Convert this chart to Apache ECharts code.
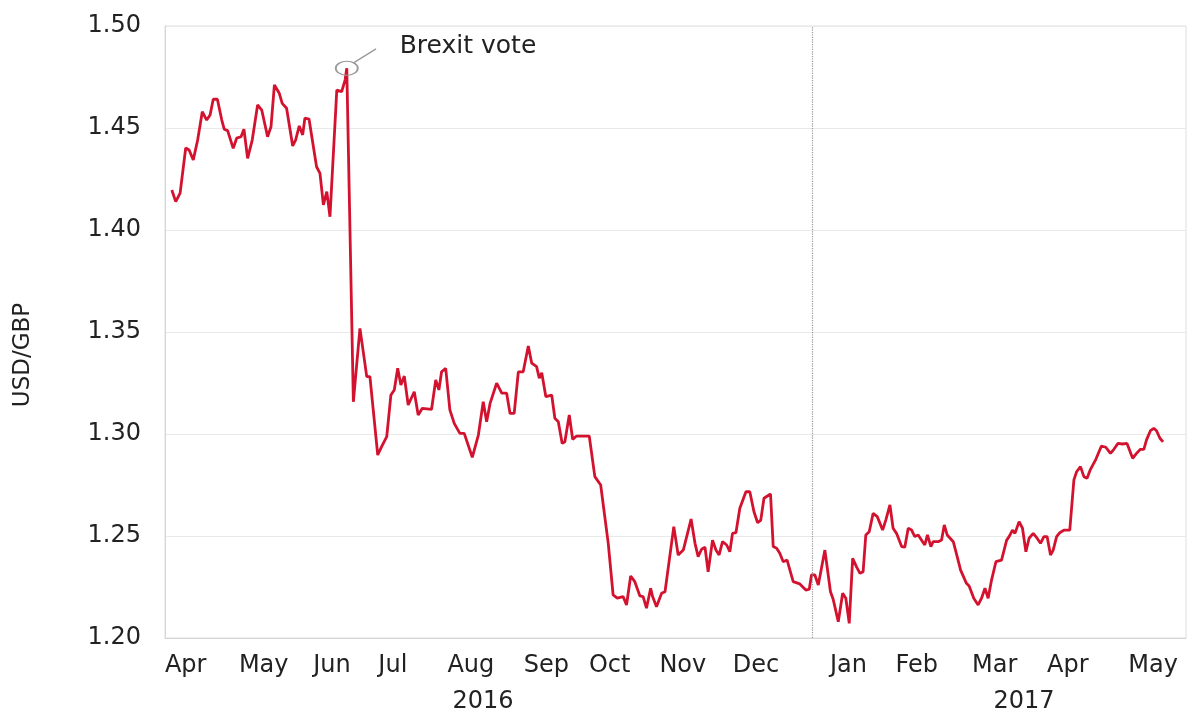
<!DOCTYPE html>
<html>
<head>
<meta charset="utf-8">
<script src="https://cdn.jsdelivr.net/npm/echarts@6/dist/echarts.min.js"></script>
<style>
  html, body { margin: 0; padding: 0; background: #fff; }
  #chart { width: 1195px; height: 715px; }
</style>
</head>
<body>
<div id="chart"></div>
<script>
// x = day counted from 1 Jan 2016 (1 Jan 2017 = 366)
const days = [
  102.3, 103.9, 105.7, 108.0, 109.4, 111.1, 112.9, 114.8, 116.6, 118.0,
  119.3, 121.0, 122.8, 123.8, 125.2, 127.5, 128.9, 130.7, 131.9, 133.4,
  135.3, 137.5, 139.2, 141.6, 143.0, 144.4, 146.4, 147.6, 149.4, 151.9,
  153.1, 154.6, 156.0, 156.9, 158.6, 161.7, 163.1, 164.5, 165.9, 167.2,
  170.0, 172.0, 173.4, 174.1, 176.8, 179.5, 182.3, 183.6, 186.8, 188.4,
  190.5, 192.2, 193.6, 195.0, 196.3, 197.7, 199.3, 201.8, 203.4, 205.1,
  208.9, 210.6, 211.9, 213.0, 214.7, 216.4, 218.2, 220.5, 222.3, 225.6,
  228.1, 230.1, 231.5, 232.9, 235.6, 237.7, 239.7, 241.1, 242.8, 244.5,
  246.5, 248.6, 250.0, 252.0, 253.1, 254.1, 255.8, 258.2, 259.5, 260.9,
  262.5, 263.6, 265.4, 266.8, 268.4, 273.6, 275.9, 278.3, 281.4, 283.4,
  285.1, 287.5, 288.9, 290.6, 292.3, 294.4, 295.7, 297.1, 298.8, 299.6,
  301.2, 303.3, 304.7, 308.3, 310.1, 312.2, 315.4, 317.0, 318.3, 319.7,
  321.1, 322.4, 324.2, 325.6, 326.9, 328.3, 330.0, 331.3, 332.4, 333.8,
  335.4, 337.9, 339.5, 341.2, 342.7, 344.0, 345.3, 348.0, 349.1, 350.5,
  351.8, 353.2, 354.8, 357.3, 360.0, 362.5, 363.9, 364.8, 366.2, 367.6,
  370.3, 372.6, 373.7, 374.5, 375.8, 377.6, 378.9, 380.3, 381.7, 383.3,
  384.7, 386.0, 387.1, 388.5, 390.1, 391.8, 394.0, 395.3, 397.0, 398.3,
  399.7, 401.8, 403.1, 404.5, 405.9, 407.2, 408.6, 410.4, 411.3, 412.4,
  413.8, 414.7, 416.8, 418.2, 419.3, 420.5, 423.0, 424.6, 426.0, 428.4,
  429.5, 431.4, 433.2, 434.6, 436.0, 437.3, 438.7, 440.5, 442.8, 444.9,
  445.9, 447.3, 448.3, 450.0, 451.4, 452.8, 454.1, 455.8, 457.4, 458.8,
  460.2, 461.5, 462.9, 464.0, 465.4, 466.7, 468.4, 470.8, 472.5, 473.6,
  475.2, 476.6, 477.9, 479.3, 481.5, 483.8, 485.6, 487.5, 488.9, 490.6,
  492.4, 494.3, 496.6, 498.2, 499.8, 501.2, 502.3, 503.9, 505.3, 506.4,
  507.8, 509.1
];
const usdPerGbp = [
  1.4196, 1.4139, 1.4181, 1.4402, 1.4392, 1.4343, 1.4441, 1.4580, 1.4539, 1.4564,
  1.4641, 1.4641, 1.4539, 1.4494, 1.4487, 1.4400, 1.4450, 1.4457, 1.4494, 1.4351,
  1.4441, 1.4613, 1.4588, 1.4457, 1.4506, 1.4711, 1.4670, 1.4621, 1.4597, 1.4412,
  1.4441, 1.4510, 1.4466, 1.4548, 1.4544, 1.4310, 1.4278, 1.4123, 1.4188, 1.4065,
  1.4686, 1.4678, 1.4735, 1.4793, 1.3158, 1.3518, 1.3281, 1.3281, 1.2897, 1.2938,
  1.2987, 1.3191, 1.3216, 1.3322, 1.3240, 1.3284, 1.3142, 1.3207, 1.3093, 1.3126,
  1.3121, 1.3265, 1.3216, 1.3305, 1.3322, 1.3118, 1.3052, 1.3003, 1.3003, 1.2886,
  1.2995, 1.3158, 1.3060, 1.3150, 1.3249, 1.3200, 1.3200, 1.3101, 1.3101, 1.3305,
  1.3305, 1.3431, 1.3347, 1.3330, 1.3273, 1.3300, 1.3183, 1.3191, 1.3077, 1.3060,
  1.2954, 1.2962, 1.3093, 1.2974, 1.2990, 1.2990, 1.2791, 1.2750, 1.2464, 1.2211,
  1.2195, 1.2203, 1.2162, 1.2304, 1.2276, 1.2206, 1.2203, 1.2146, 1.2244, 1.2203,
  1.2153, 1.2219, 1.2227, 1.2546, 1.2407, 1.2431, 1.2583, 1.2464, 1.2399, 1.2435,
  1.2445, 1.2325, 1.2480, 1.2431, 1.2407, 1.2472, 1.2456, 1.2423, 1.2513, 1.2516,
  1.2636, 1.2717, 1.2717, 1.2619, 1.2565, 1.2578, 1.2685, 1.2706, 1.2448, 1.2440,
  1.2415, 1.2374, 1.2382, 1.2276, 1.2265, 1.2235, 1.2239, 1.2309, 1.2309, 1.2260,
  1.2431, 1.2227, 1.2190, 1.2195, 1.2080, 1.2219, 1.2195, 1.2072, 1.2391, 1.2349,
  1.2317, 1.2325, 1.2505, 1.2521, 1.2611, 1.2595, 1.2529, 1.2578, 1.2652, 1.2538,
  1.2513, 1.2448, 1.2445, 1.2538, 1.2529, 1.2497, 1.2505, 1.2472, 1.2456, 1.2505,
  1.2448, 1.2472, 1.2472, 1.2480, 1.2554, 1.2505, 1.2472, 1.2399, 1.2333, 1.2268,
  1.2255, 1.2195, 1.2162, 1.2195, 1.2244, 1.2195, 1.2284, 1.2374, 1.2382, 1.2480,
  1.2497, 1.2529, 1.2513, 1.2570, 1.2538, 1.2423, 1.2489, 1.2513, 1.2489, 1.2464,
  1.2497, 1.2497, 1.2407, 1.2431, 1.2497, 1.2516, 1.2529, 1.2529, 1.2775, 1.2815,
  1.2840, 1.2791, 1.2783, 1.2827, 1.2876, 1.2941, 1.2935, 1.2905, 1.2925, 1.2954,
  1.2951, 1.2954, 1.2881, 1.2905, 1.2925, 1.2925, 1.2971, 1.3016, 1.3028, 1.3016,
  1.2979, 1.2961
];

const monthTicks = [108, 140, 168, 193, 225, 256, 282, 312, 342, 380, 408, 440, 470, 505];
const monthNames = ['Apr', 'May', 'Jun', 'Jul', 'Aug', 'Sep', 'Oct', 'Nov', 'Dec', 'Jan', 'Feb', 'Mar', 'Apr', 'May'];
const yearTicks = [230, 452];
const yearNames = ['2016', '2017'];
const yearBreak = 365;

const FONT = 'DejaVu Sans';
const peakIdx = usdPerGbp.indexOf(Math.max(...usdPerGbp));
const peak = [days[peakIdx], usdPerGbp[peakIdx]];

const chart = echarts.init(document.getElementById('chart'));
chart.setOption({
  animation: false,
  grid: {
    left: 165,
    right: 9,
    top: 26,
    bottom: 77,
    outerBoundsMode: 'none',
    show: true,
    borderColor: '#dedede',
    borderWidth: 1,
  },
  xAxis: [
    {
      type: 'value',
      min: 99.5,
      max: 518.5,
      axisLine: { show: true, lineStyle: { color: '#d6d6d6', width: 1 } },
      axisTick: { show: false },
      splitLine: { show: false },
      axisLabel: {
        customValues: monthTicks,
        formatter: (v) => monthNames[monthTicks.indexOf(v)],
        fontFamily: FONT,
        fontSize: 24,
        color: '#222',
        margin: 16,
      },
    },
    {
      type: 'value',
      position: 'bottom',
      offset: 38,
      min: 99.5,
      max: 518.5,
      axisLine: { show: false },
      axisTick: { show: false },
      splitLine: { show: false },
      axisLabel: {
        customValues: yearTicks,
        formatter: (v) => yearNames[yearTicks.indexOf(v)],
        fontFamily: FONT,
        fontSize: 24,
        color: '#222',
        margin: 14,
      },
    },
  ],
  yAxis: {
    type: 'value',
    min: 1.2,
    max: 1.5,
    interval: 0.05,
    name: 'USD/GBP',
    nameLocation: 'middle',
    nameGap: 130,
    nameRotate: 90,
    nameTextStyle: {
      fontFamily: FONT,
      fontSize: 23,
      color: '#222',
      padding: [0, 46, 0, 0],
    },
    axisLine: { show: true, lineStyle: { color: '#d6d6d6', width: 1 } },
    axisTick: { show: false },
    splitLine: { lineStyle: { color: '#e9e9e9', width: 1 } },
    axisLabel: {
      formatter: (v) => v.toFixed(2),
      fontFamily: FONT,
      fontSize: 24,
      color: '#222',
      margin: 24,
    },
  },
  series: [
    {
      type: 'line',
      data: days.map((d, i) => [d, usdPerGbp[i]]),
      showSymbol: false,
      lineStyle: { color: '#d3122f', width: 2.8 },
      markLine: {
        silent: true,
        symbol: 'none',
        label: { show: false },
        data: [
          { xAxis: yearBreak, lineStyle: { type: 'dotted', color: '#9a9a9a', width: 1.2 } },
          [
            { coord: [peak[0] + 2.6, peak[1] + 0.0025], lineStyle: { type: 'solid', color: '#9a9a9a', width: 1.3 } },
            { coord: [peak[0] + 12, peak[1] + 0.0095] },
          ],
        ],
      },
      markPoint: {
        silent: true,
        data: [
          {
            coord: peak,
            symbol: 'circle',
            symbolSize: [22, 14],
            itemStyle: { color: 'rgba(0,0,0,0)', borderColor: '#9a9a9a', borderWidth: 1.5 },
            label: {
              show: true,
              formatter: 'Brexit vote',
              position: 'right',
              distance: 0,
              offset: [41, -22],
              fontFamily: FONT,
              fontSize: 25,
              color: '#222',
            },
          },
        ],
      },
    },
  ],
});
</script>
</body>
</html>
